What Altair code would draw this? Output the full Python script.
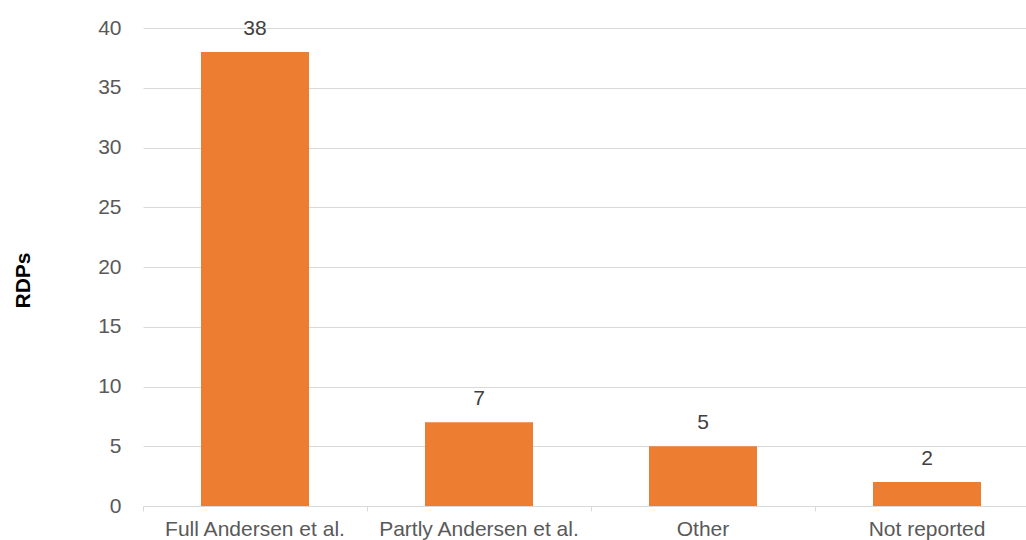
import altair as alt
import pandas as pd

categories = ["Full Andersen et al.", "Partly Andersen et al.", "Other", "Not reported"]
rdps = [38, 7, 5, 2]

df = pd.DataFrame({"category": categories, "rdps": rdps})

FONT = "Liberation Sans"
FS = 21
PLOT_W = 883
PLOT_H = 478
BAND = 224

x = alt.X(
    "category:N",
    sort=categories,
    title=None,
    scale=alt.Scale(range=[0, BAND * len(categories)], paddingInner=0, paddingOuter=0),
    axis=alt.Axis(
        labelAngle=0,
        labelFont=FONT,
        labelFontSize=FS,
        labelColor="#595959",
        labelPadding=7,
        labelLimit=400,
        bandPosition=0,
        tickColor="#d9d9d9",
        tickSize=5,
        domainColor="#d9d9d9",
        grid=False,
    ),
)

y = alt.Y(
    "rdps:Q",
    title="RDPs",
    scale=alt.Scale(domain=[0, 40], nice=False),
    axis=alt.Axis(
        values=[0, 5, 10, 15, 20, 25, 30, 35, 40],
        labelFont=FONT,
        labelFontSize=FS,
        labelColor="#595959",
        labelPadding=22,
        ticks=False,
        domain=False,
        gridColor="#d9d9d9",
        gridWidth=1,
        titleFont=FONT,
        titleFontSize=FS,
        titleFontWeight="bold",
        titleColor="#000000",
        titleAngle=-90,
        titleX=-110,
        titleY=252,
        titleAlign="center",
        titleBaseline="bottom",
    ),
)

base = alt.Chart(df).encode(x=x, y=y)

bars = base.mark_bar(color="#ED7D31", size=108)

labels = base.mark_text(
    font=FONT, fontSize=FS, color="#404040", baseline="bottom", dy=-13
).encode(text="rdps:Q")

chart = (
    alt.layer(bars, labels)
    .properties(
        width=PLOT_W,
        height=PLOT_H,
        background="white",
        autosize=alt.AutoSizeParams(type="none"),
        padding={"left": 143, "top": 28, "right": 0, "bottom": 34},
    )
    .configure_view(stroke="white", strokeOpacity=0, strokeWidth=0)
    .configure_axisX(grid=False)
    .configure_axisY(domain=False, domainOpacity=0)
)

chart.save("out.html", embed_options={"renderer": "svg", "actions": False})
